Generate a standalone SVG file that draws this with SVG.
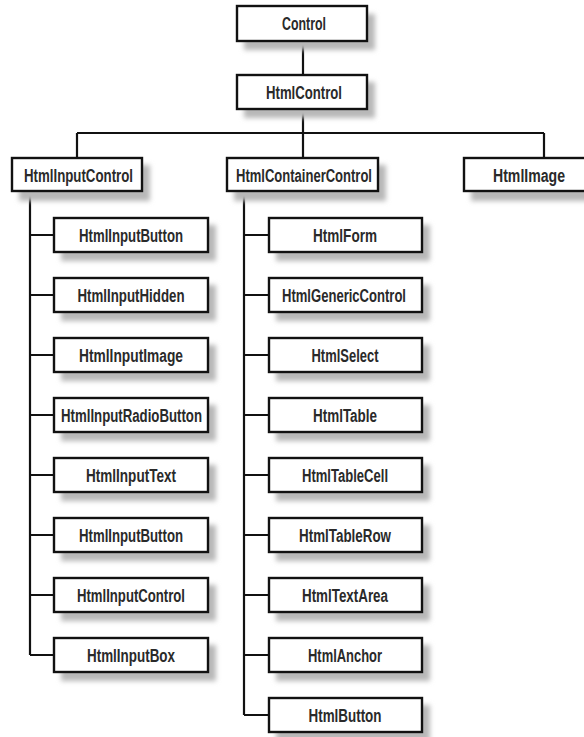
<svg xmlns="http://www.w3.org/2000/svg" width="584" height="737" viewBox="0 0 584 737">
<defs>
<filter id="blur" x="-20%" y="-40%" width="140%" height="180%"><feGaussianBlur stdDeviation="2.5"/></filter>
</defs>
<style>
.sh{fill:#b8b8b8;filter:url(#blur)}
.box{fill:#fff;stroke:#111;stroke-width:2.4}
.t{font-family:"Liberation Sans","DejaVu Sans",sans-serif;font-size:17.5px;font-weight:bold;fill:#2a2a2a;text-anchor:middle}
.ln{stroke:#111;stroke-width:2.2;fill:none}
</style>
<rect width="584" height="737" fill="#fff"/>
<g id="connectors">
<path class="ln" d="M303 42V74M303 110V133M77 133H544M77 133V157M303 133V157M544 133V157"/>
<path class="ln" d="M30 192V655M30 235H53M30 295H53M30 355H53M30 415H53M30 475H53M30 535H53M30 595H53M30 655H53"/>
<path class="ln" d="M244 192V715M244 235H268M244 295H268M244 355H268M244 415H268M244 475H268M244 535H268M244 595H268M244 655H268M244 715H268"/>
</g>
<g id="n-control"><rect class="sh" x="244" y="14" width="131" height="36"/><rect class="box" x="237" y="6" width="130" height="35"/><text class="t" x="304" y="30" textLength="44" lengthAdjust="spacingAndGlyphs">Control</text></g>
<g id="n-htmlcontrol"><rect class="sh" x="244" y="82" width="131" height="36"/><rect class="box" x="237" y="75" width="130" height="34"/><text class="t" x="304" y="99" textLength="76" lengthAdjust="spacingAndGlyphs">HtmlControl</text></g>
<g id="n-htmlinputcontrol"><rect class="sh" x="19" y="165" width="131" height="36"/><rect class="box" x="12" y="158" width="130" height="33"/><text class="t" x="78.5" y="182" textLength="109" lengthAdjust="spacingAndGlyphs">HtmlInputControl</text></g>
<g id="n-htmlcontainercontrol"><rect class="sh" x="234" y="165" width="152" height="36"/><rect class="box" x="227" y="158" width="151" height="33"/><text class="t" x="304" y="182" textLength="136" lengthAdjust="spacingAndGlyphs">HtmlContainerControl</text></g>
<g id="n-htmlimage"><rect class="sh" x="471" y="165" width="131" height="36"/><rect class="box" x="464" y="158" width="130" height="33"/><text class="t" x="529" y="182" textLength="72" lengthAdjust="spacingAndGlyphs">HtmlImage</text></g>

<g id="n-l1"><rect class="sh" x="61" y="225" width="155" height="36"/><rect class="box" x="54" y="218" width="154" height="34"/><text class="t" x="131" y="242" textLength="104" lengthAdjust="spacingAndGlyphs">HtmlInputButton</text></g>
<g id="n-l2"><rect class="sh" x="61" y="285" width="155" height="36"/><rect class="box" x="54" y="278" width="154" height="34"/><text class="t" x="131" y="302" textLength="107" lengthAdjust="spacingAndGlyphs">HtmlInputHidden</text></g>
<g id="n-l3"><rect class="sh" x="61" y="345" width="155" height="36"/><rect class="box" x="54" y="338" width="154" height="34"/><text class="t" x="131" y="362" textLength="104" lengthAdjust="spacingAndGlyphs">HtmlInputImage</text></g>
<g id="n-l4"><rect class="sh" x="61" y="405" width="155" height="36"/><rect class="box" x="54" y="398" width="154" height="34"/><text class="t" x="131.5" y="422" textLength="141" lengthAdjust="spacingAndGlyphs">HtmlInputRadioButton</text></g>
<g id="n-l5"><rect class="sh" x="61" y="465" width="155" height="36"/><rect class="box" x="54" y="458" width="154" height="34"/><text class="t" x="131" y="482" textLength="90" lengthAdjust="spacingAndGlyphs">HtmlInputText</text></g>
<g id="n-l6"><rect class="sh" x="61" y="525" width="155" height="36"/><rect class="box" x="54" y="518" width="154" height="34"/><text class="t" x="131" y="542" textLength="104" lengthAdjust="spacingAndGlyphs">HtmlInputButton</text></g>
<g id="n-l7"><rect class="sh" x="61" y="585" width="155" height="36"/><rect class="box" x="54" y="578" width="154" height="34"/><text class="t" x="131" y="602" textLength="108" lengthAdjust="spacingAndGlyphs">HtmlInputControl</text></g>
<g id="n-l8"><rect class="sh" x="61" y="645" width="155" height="36"/><rect class="box" x="54" y="638" width="154" height="34"/><text class="t" x="131" y="662" textLength="88" lengthAdjust="spacingAndGlyphs">HtmlInputBox</text></g>

<g id="n-r1"><rect class="sh" x="276" y="225" width="154" height="36"/><rect class="box" x="269" y="218" width="153" height="34"/><text class="t" x="345" y="242" textLength="64" lengthAdjust="spacingAndGlyphs">HtmlForm</text></g>
<g id="n-r2"><rect class="sh" x="276" y="285" width="154" height="36"/><rect class="box" x="269" y="278" width="153" height="34"/><text class="t" x="344" y="302" textLength="124" lengthAdjust="spacingAndGlyphs">HtmlGenericControl</text></g>
<g id="n-r3"><rect class="sh" x="276" y="345" width="154" height="36"/><rect class="box" x="269" y="338" width="153" height="34"/><text class="t" x="345" y="362" textLength="67" lengthAdjust="spacingAndGlyphs">HtmlSelect</text></g>
<g id="n-r4"><rect class="sh" x="276" y="405" width="154" height="36"/><rect class="box" x="269" y="398" width="153" height="34"/><text class="t" x="345" y="422" textLength="64" lengthAdjust="spacingAndGlyphs">HtmlTable</text></g>
<g id="n-r5"><rect class="sh" x="276" y="465" width="154" height="36"/><rect class="box" x="269" y="458" width="153" height="34"/><text class="t" x="345" y="482" textLength="86" lengthAdjust="spacingAndGlyphs">HtmlTableCell</text></g>
<g id="n-r6"><rect class="sh" x="276" y="525" width="154" height="36"/><rect class="box" x="269" y="518" width="153" height="34"/><text class="t" x="345" y="542" textLength="92" lengthAdjust="spacingAndGlyphs">HtmlTableRow</text></g>
<g id="n-r7"><rect class="sh" x="276" y="585" width="154" height="36"/><rect class="box" x="269" y="578" width="153" height="34"/><text class="t" x="345" y="602" textLength="86" lengthAdjust="spacingAndGlyphs">HtmlTextArea</text></g>
<g id="n-r8"><rect class="sh" x="276" y="645" width="154" height="36"/><rect class="box" x="269" y="638" width="153" height="34"/><text class="t" x="345" y="662" textLength="74" lengthAdjust="spacingAndGlyphs">HtmlAnchor</text></g>
<g id="n-r9"><rect class="sh" x="276" y="705" width="154" height="36"/><rect class="box" x="269" y="698" width="153" height="34"/><text class="t" x="345" y="722" textLength="73" lengthAdjust="spacingAndGlyphs">HtmlButton</text></g>
</svg>
